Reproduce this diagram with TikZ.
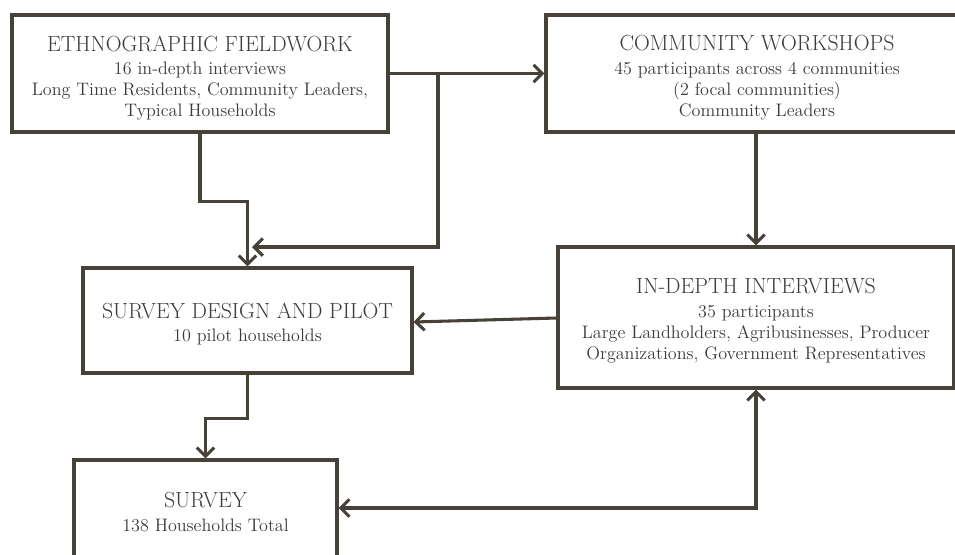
\documentclass[tikz,border=0pt]{standalone}
\usetikzlibrary{arrows.meta,calc}
\definecolor{ln}{HTML}{46423A}
\definecolor{tx}{HTML}{3E3C38}
\tikzset{
  box/.style={draw=ln,line width=2.4pt,rectangle,inner sep=0pt},
  txt/.style={text=tx,align=center,inner sep=0pt,font=\fontsize{13.55}{15.75}\selectfont},
  conn/.style={draw=ln,line width=2.3pt,line join=miter,-{Straight Barb[length=6.5pt,width=13pt,line width=2.3pt]}},
  bconn/.style={draw=ln,line width=2.3pt,line join=miter,{Straight Barb[length=6.5pt,width=13pt,line width=2.3pt]}-{Straight Barb[length=6.5pt,width=13pt,line width=2.3pt]}},
}
\newcommand\hd[1]{{\fontsize{16.4}{18}\selectfont #1}\\[2pt]}
\begin{document}
\begin{tikzpicture}[x=0.75pt,y=-0.75pt]
\clip (0,0) rectangle (955,554);
\fill[white] (0,0) rectangle (955,554);
% boxes
\node[box,minimum width=282pt,minimum height=87.75pt] (A) at (200,73.5) {};
\node[box,minimum width=315pt,minimum height=87.75pt] (B) at (756,73.5) {};
\node[box,minimum width=297pt,minimum height=105.75pt] (C) at (756,317.5) {};
\node[box,minimum width=246.75pt,minimum height=78.75pt] (D) at (247.5,320.5) {};
\node[box,minimum width=197.25pt,minimum height=84pt] (E) at (205.5,516) {};
% texts
\node[txt] (At) at (200,78) {\hd{ETHNOGRAPHIC FIELDWORK}16 in-depth interviews\\Long Time Residents, Community Leaders,\\Typical Households};
\node[txt] (Bt) at (757,78) {\hd{COMMUNITY WORKSHOPS}45 participants across 4 communities\\(2 focal communities)\\Community Leaders};
\node[txt] (Ct) at (756,321) {\hd{IN-DEPTH INTERVIEWS}35 participants\\Large Landholders, Agribusinesses, Producer\\Organizations, Government Representatives};
\node[txt] (Dt) at (247.5,324) {\hd{SURVEY DESIGN AND PILOT}10 pilot households};
\node[txt] (Et) at (205.5,512) {\hd{SURVEY}138 Households Total};
% connectors
\coordinate (j1) at (438,73.5);
\coordinate (m1) at (252,247);
\draw[conn] (A.east) -- (B.west);
\draw[conn] (j1) |- (m1);
\draw[conn] (A.south) -- ++(0,68) -| (D.north);
\draw[conn] (B.south) -- (B.south |- C.north);
\draw[conn] ($(C.west)+(0,0.5)$) -- ($(D.east)+(0,1.5)$);
\draw[bconn] (C.south) |- ($(E.east)+(0,-8)$);
\draw[conn] (D.south) -- ++(0,44) -| (E.north);
\end{tikzpicture}
\end{document}
